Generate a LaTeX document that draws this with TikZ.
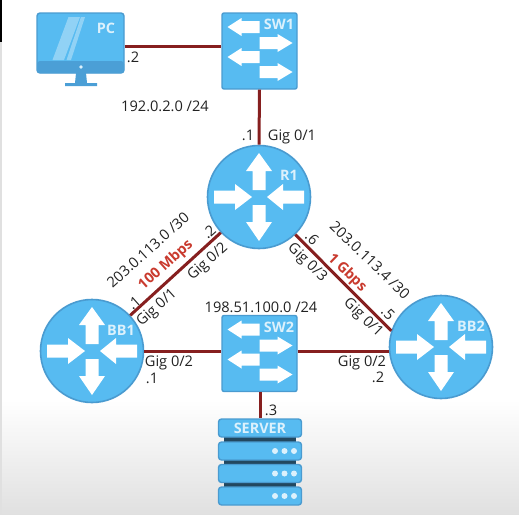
\documentclass[tikz,border=0pt]{standalone}
\usepackage{fontspec}
\setmainfont{Open Sans}
\usepackage{tikz}
\usetikzlibrary{positioning,calc}
\definecolor{devblue}{HTML}{57BBF1}
\definecolor{devedge}{HTML}{4A9BD0}
\definecolor{devdark}{HTML}{4B9FD6}
\definecolor{devpale}{HTML}{DCF1FC}
\definecolor{linkred}{HTML}{861F1F}
\definecolor{ratered}{HTML}{C93A2E}
\definecolor{txt}{HTML}{222222}

\begin{document}
\begin{tikzpicture}[
  x=1pt, y=-1pt,
  font=\fontsize{14.6}{16}\selectfont, text=txt,
  router/.style={circle, draw=devedge, line width=1.6pt, fill=devblue, minimum size=103pt, inner sep=0pt},
  switchbox/.style={rounded corners=2pt, draw=devedge, line width=1.4pt, fill=devblue, minimum width=75pt, minimum height=76pt, inner sep=0pt},
  serverunit/.style={rounded corners=3pt, draw=devedge, line width=1.4pt, fill=devblue, minimum width=83pt, minimum height=18pt, inner sep=0pt},
  devlbl/.style={font=\fontsize{14.4}{16}\selectfont\bfseries, text=devpale},
  link/.style={draw=linkred, line width=3pt},
  rate/.style={font=\fontsize{14.4}{16}\selectfont\bfseries, text=ratered},
  dot/.style={circle, fill=devpale, minimum size=6pt, inner sep=0pt},
  routerarrows/.pic={
    \fill[white] (-6.5,-7) -- (-6.5,-26) -- (-13,-26) -- (0,-44) -- (13,-26) -- (6.5,-26) -- (6.5,-7) -- cycle;
    \fill[white] (-6.5,8) -- (-6.5,25) -- (-13,25) -- (0,44) -- (13,25) -- (6.5,25) -- (6.5,8) -- cycle;
    \fill[white] (-45,-6.5) -- (-24,-6.5) -- (-24,-13) -- (-7,0) -- (-24,13) -- (-24,6.5) -- (-45,6.5) -- cycle;
    \fill[white] (45,-6.5) -- (24,-6.5) -- (24,-13) -- (8,0) -- (24,13) -- (24,6.5) -- (45,6.5) -- cycle;
  },
  switcharrows/.pic={
    \foreach \ya in {-24,6}{
      \fill[white] (0,\ya-6) -- (-18,\ya-6) -- (-18,\ya-9) -- (-32,\ya) -- (-18,\ya+9) -- (-18,\ya+6) -- (0,\ya+6) -- cycle;
    }
    \foreach \yb in {-8,21}{
      \fill[white] (0,\yb-6) -- (18,\yb-6) -- (18,\yb-9) -- (33,\yb) -- (18,\yb+9) -- (18,\yb+6) -- (0,\yb+6) -- cycle;
    }
  },
]
\useasboundingbox (0,0) rectangle (519,514);
\shade[top color=white, bottom color=black!12] (0,400) rectangle (519,514);
\fill[black] (0,0) rectangle (1.5,42);
\fill[black!12] (0,42) rectangle (1.5,514);

\node[router] (R1) at (259,197) {};
\node[router] (BB1) at (92,351) {};
\node[router] (BB2) at (441,347) {};
\node[switchbox] (SW1) at (259.5,51) {};
\node[switchbox] (SW2) at (259.5,353.5) {};
\node[rounded corners=3pt, draw=devedge, line width=1.4pt, fill=devblue, minimum width=87pt, minimum height=60pt, inner sep=0pt] (PC) at (80.5,43) {};

% monitor
\fill[devdark, rounded corners=3pt] (37,61) -- (37,73) -- (124,73) -- (124,61) -- cycle;
\fill[devdark] (76,73) -- (86,73) -- (87,83) -- (97,83) -- (97,86) -- (65,86) -- (65,83) -- (75,83) -- cycle;
\fill[devpale] (81,67) circle (1.8);
\fill[white, opacity=.35] (52.5,60) -- (64,60) -- (80,17) -- (68.5,17) -- cycle;
\fill[white, opacity=.35] (66.5,60) -- (71,60) -- (85,17) -- (81,17) -- cycle;

% server rack
\fill[devdark!45!black] (224,436) rectangle (296,488);
\node[serverunit] (SRV) at (260,428) {};
\node[serverunit] (SRVa) at (260,451) {};
\node[serverunit] (SRVb) at (260,473.5) {};
\node[serverunit] (SRVc) at (260,496) {};
\foreach \u in {SRVa,SRVb,SRVc}{
  \foreach \dx in {15,24.5,34}{
    \node[dot] (\u d\dx) at ([xshift=\dx pt]\u.center) {};
  }
}

\draw[link] (PC.east |- 0,46) -- (SW1.west |- 0,46);
\draw[link] (SW1.south) -- (R1.north);
\draw[link] (R1.223) -- (BB1.43);
\draw[link] (R1.-46) -- (BB2.162);
\draw[link] (BB1.east) -- (SW2.west |- BB1.east);
\draw[link] (SW2.east |- BB1.east) -- (BB2.west |- BB1.east);
\draw[link] (SW2.south -| SRV.north) -- (SRV.north);

\path (R1) pic {routerarrows};
\path (BB1) pic {routerarrows};
\path (BB2) pic {routerarrows};
\path (SW1) pic {switcharrows};
\path (SW2) pic {switcharrows};

\node[devlbl] (lblPC) at (106,28) {PC};
\node[devlbl] (lblSW1) at (279,24) {SW1};
\node[devlbl] (lblSW2) at (279,327) {SW2};
\node[devlbl] (lblR1) at (289,175) {R1};
\node[devlbl] (lblBB1) at (121,330) {BB1};
\node[devlbl] (lblBB2) at (471,326) {BB2};
\node[devlbl] (lblSRV) at (260,428) {SERVER};

\node (ipPC) at (133,57) {.2};
\node (netA) at (165,106) {192.0.2.0 /24};
\node (ipR1a) at (248,135) {.1};
\node (gigR1a) at (292,137) {Gig 0/1};

\node[rotate=42] (netB) at (148,250) {203.0.113.0 /30};
\node[rate, rotate=42] (rateB) at (166,265) {100 Mbps};
\node[rotate=42] (ipR1b) at (209,232) {.2};
\node[rotate=42] (ipBB1a) at (134,303) {.1};
\node[rotate=42] (gigR1b) at (208,262) {Gig 0/2};
\node[rotate=42] (gigBB1a) at (157,308) {Gig 0/1};

\node[rotate=-44] (netC) at (370,260) {203.0.113.4 /30};
\node[rate, rotate=-44] (rateC) at (347,273) {1 Gbps};
\node[rotate=-44] (ipR1c) at (312,238) {.6};
\node[rotate=-44] (ipBB2a) at (388,313) {.5};
\node[rotate=-44] (gigR1c) at (307,263) {Gig 0/3};
\node[rotate=-44] (gigBB2a) at (363,318) {Gig 0/1};

\node (gigBB1b) at (169,363) {Gig 0/2};
\node (ipBB1b) at (152,378) {.1};
\node (netD) at (261,307) {198.51.100.0 /24};
\node (gigBB2b) at (362,363) {Gig 0/2};
\node (ipBB2b) at (378,377) {.2};
\node (ipSRV) at (271,410) {.3};
\end{tikzpicture}
\end{document}
